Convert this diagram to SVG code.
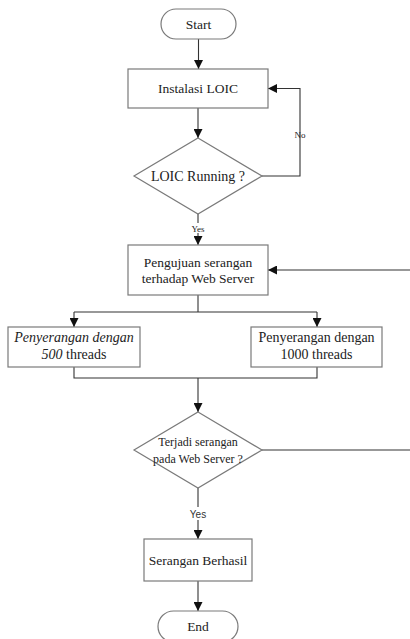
<svg xmlns="http://www.w3.org/2000/svg" width="410" height="639" viewBox="0 0 410 639" font-family="Liberation Serif, Times New Roman, serif">
<defs>
<marker id="ah" viewBox="0 0 10 10" refX="10" refY="5" markerWidth="9" markerHeight="9" markerUnits="userSpaceOnUse" orient="auto">
<path d="M0,0 L10,5 L0,10 z" fill="#111"/>
</marker>
<style>
.sh{fill:#fff;stroke:#7a7a7a;stroke-width:1.2}
.cn{fill:none;stroke:#333;stroke-width:1.1}
.t{font-family:'Liberation Serif','Times New Roman',serif;font-size:13.5px;fill:#222;text-anchor:middle}
.s{font-size:12px}
.b{font-size:14px}
.l{font-family:'Liberation Serif','Times New Roman',serif;font-size:9px;fill:#222;text-anchor:middle}
.ls{font-family:'Liberation Sans',Arial,sans-serif;font-size:10px;fill:#333;text-anchor:middle}
</style>
</defs>
<rect width="410" height="639" fill="#fff"/>
<g id="connectors">
<path class="cn" d="M198.5,39 V69" marker-end="url(#ah)"/>
<path class="cn" d="M198,108 V138" marker-end="url(#ah)"/>
<path class="cn" d="M262,176 H300 V88.5 H268" marker-end="url(#ah)"/>
<path class="cn" d="M198,214 V223"/>
<path class="cn" d="M198,233 V245" marker-end="url(#ah)"/>
<path class="cn" d="M410,270 H268" marker-end="url(#ah)"/>
<path class="cn" d="M198,295 V312"/>
<path class="cn" d="M74,312 H317"/>
<path class="cn" d="M74,312 V327" marker-end="url(#ah)"/>
<path class="cn" d="M317,312 V327" marker-end="url(#ah)"/>
<path class="cn" d="M74,367 V378 H317 V367"/>
<path class="cn" d="M198,378 V412" marker-end="url(#ah)"/>
<path class="cn" d="M262,450 H410"/>
<path class="cn" d="M198,488 V507"/>
<path class="cn" d="M198,520 V539" marker-end="url(#ah)"/>
<path class="cn" d="M198,581 V611" marker-end="url(#ah)"/>
<text class="l" x="300" y="138">No</text>
<text class="l" x="198" y="232">Yes</text>
<text class="ls" x="198" y="517.5">Yes</text>
</g>
<g id="start">
<rect class="sh" x="161" y="9" width="75" height="30" rx="15" ry="15"/>
<text class="t" x="198.5" y="28.5">Start</text>
</g>
<g id="instalasi">
<rect class="sh" x="128" y="69" width="140" height="39"/>
<text class="t" x="198" y="93">Instalasi LOIC</text>
</g>
<g id="loic-running">
<polygon class="sh" points="198,138 262,176 198,214 134,176"/>
<text class="t b" x="198" y="180.5">LOIC Running ?</text>
</g>
<g id="pengujuan">
<rect class="sh" x="128" y="245" width="140" height="50"/>
<text class="t" x="198" y="267">Pengujuan serangan</text>
<text class="t" x="198" y="283">terhadap Web Server</text>
</g>
<g id="threads500">
<rect class="sh" x="8" y="327" width="132" height="40"/>
<text class="t b" x="74" y="342" font-style="italic">Penyerangan dengan</text>
<text class="t b" x="74" y="359"><tspan font-style="italic">500</tspan> threads</text>
</g>
<g id="threads1000">
<rect class="sh" x="251" y="327" width="131" height="40"/>
<text class="t b" x="316.5" y="342">Penyerangan dengan</text>
<text class="t b" x="316.5" y="359">1000 threads</text>
</g>
<g id="terjadi">
<polygon class="sh" points="198,412 262,450 198,488 134,450"/>
<text class="t s" x="198" y="446">Terjadi serangan</text>
<text class="t s" x="198" y="463">pada Web Server ?</text>
</g>
<g id="berhasil">
<rect class="sh" x="144" y="539" width="108" height="42"/>
<text class="t" x="198" y="564.5">Serangan Berhasil</text>
</g>
<g id="end">
<rect class="sh" x="158" y="611" width="80" height="31" rx="15.5" ry="15.5"/>
<text class="t" x="198" y="631">End</text>
</g>
</svg>
